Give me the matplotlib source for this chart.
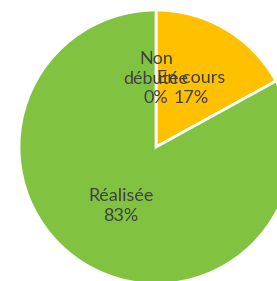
import matplotlib
matplotlib.use('Agg')
import matplotlib.pyplot as plt

# Statut des actions
categories = ['Non\ndébutée', 'En cours', 'Réalisée']
values = [0, 17, 83]
colors = ['#5B9BD5', '#FFC000', '#81C341']

W, H = 277, 281
cx, cy, r = 156, 147, 137  # centre et rayon en pixels

fig = plt.figure(figsize=(W / 100, H / 100), dpi=100)
ax = fig.add_axes([0, 0, 1, 1])

labels = [f'{c}\n{v}%' for c, v in zip(categories, values)]
wedges, texts = ax.pie(values, labels=labels, colors=colors, startangle=90,
                       counterclock=False, labeldistance=0.5,
                       wedgeprops=dict(edgecolor='white', linewidth=2),
                       textprops=dict(fontsize=13, color='#404040', family='Lato'))
for t in texts:
    t.set_ha('center')
    t.set_va('center')
    t.set_multialignment('center')
    t.set_linespacing(1.3)

ax.set_xlim(-cx / r, (W - cx) / r)
ax.set_ylim(-(H - cy) / r, cy / r)
ax.set_aspect('equal')
ax.axis('off')

fig.savefig('out.png', dpi=100, facecolor='white')
